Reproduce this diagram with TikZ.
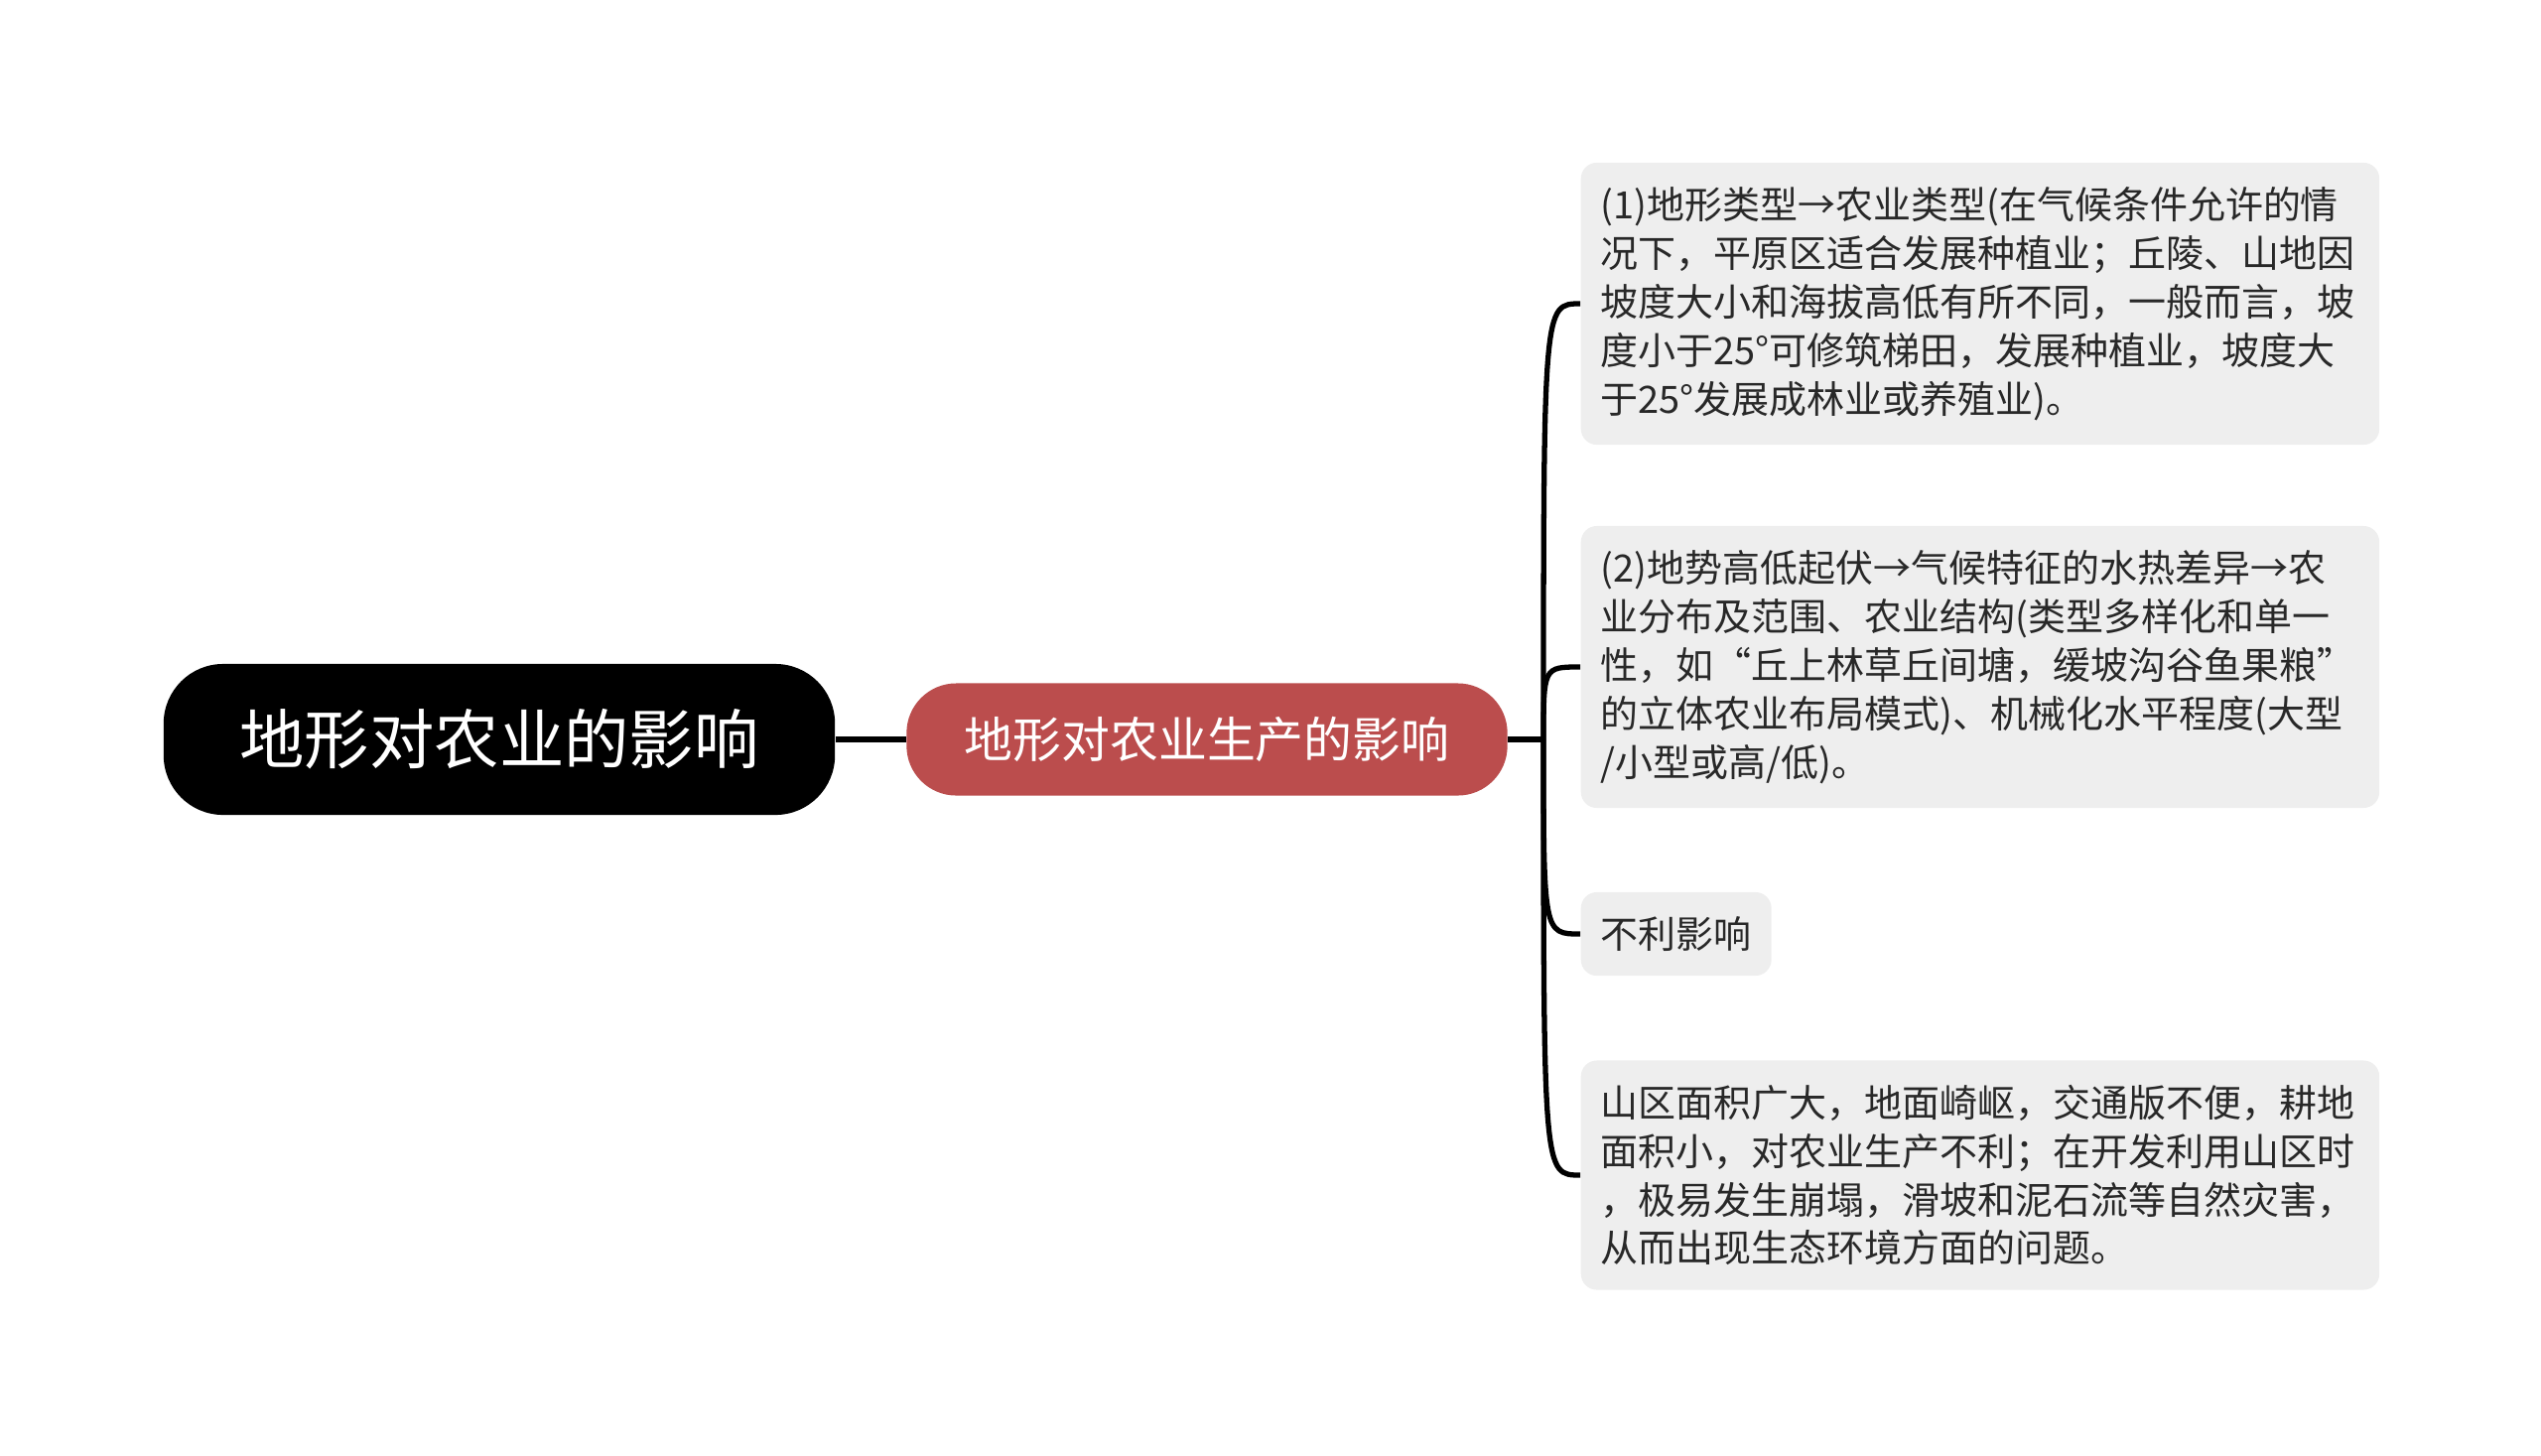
\documentclass[tikz,border=0pt]{standalone}
\usepackage{fontspec}
\setmainfont{Noto Sans CJK SC}
\definecolor{topicred}{RGB}{187,77,77}
\definecolor{leafgray}{RGB}{238,238,238}
\definecolor{leaftext}{RGB}{40,40,40}
\tikzset{
  link/.style={line width=1.5pt, black},
  rootbox/.style={fill=black, text=white, rounded corners=0.6cm, minimum width=6.76cm, minimum height=1.52cm, font=\fontsize{18.6}{22}\selectfont},
  topicbox/.style={fill=topicred, text=white, rounded corners=0.5cm, minimum width=6.05cm, minimum height=1.13cm, font=\fontsize{13.9}{17}\selectfont},
  leafbox/.style={fill=leafgray, text=leaftext, rounded corners=0.16cm, anchor=west, align=left, inner xsep=0.2cm, inner ysep=0.245cm, font=\fontsize{10.8}{13.9}\selectfont},
  leafwide/.style={leafbox, text width=7.64cm}
}
\begin{document}
\begin{tikzpicture}[x=0.01cm, y=-0.01cm]
        \useasboundingbox (0,0) rectangle (2560,1466);
        \node[rootbox] (root) at (503,745) {地形对农业的影响};
        \node[topicbox] (topic) at (1216,745) {地形对农业生产的影响};
        \coordinate (j) at (1555,745);

        \node[leafwide] (b1) at (1592,306) {(1)地形类型→农业类型(在气候条件允许的情\\况下，平原区适合发展种植业；丘陵、山地因\\坡度大小和海拔高低有所不同，一般而言，坡\\度小于25°可修筑梯田，发展种植业，坡度大\\于25°发展成林业或养殖业)。};
        \node[leafwide] (b2) at (1592,672) {(2)地势高低起伏→气候特征的水热差异→农\\业分布及范围、农业结构(类型多样化和单一\\性，如“丘上林草丘间塘，缓坡沟谷鱼果粮”\\的立体农业布局模式)、机械化水平程度(大型\\/小型或高/低)。};
        \node[leafbox] (b3) at (1592,941) {不利影响};
        \node[leafwide] (b4) at (1592,1184) {山区面积广大，地面崎岖，交通版不便，耕地\\面积小，对农业生产不利；在开发利用山区时\\，极易发生崩塌，滑坡和泥石流等自然灾害，\\从而出现生态环境方面的问题。};

        \draw[link] (root) -- (topic);
        \draw[link] (topic) -- (j);
        \foreach \b in {b1,b2,b3,b4} {
             \draw[link] (j) .. controls (j |- \b.west) .. (\b.west);
        }
    \end{tikzpicture}
\end{document}
